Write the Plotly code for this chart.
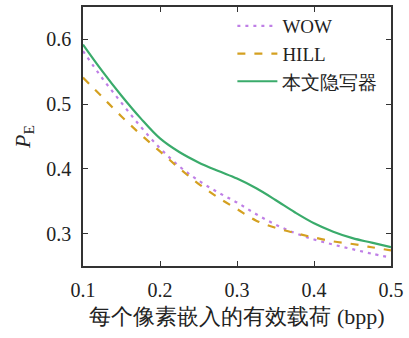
import plotly.graph_objects as go

x_bpp = [0.100, 0.125, 0.150, 0.175, 0.200, 0.225, 0.250, 0.275, 0.300,
         0.325, 0.350, 0.375, 0.400, 0.425, 0.450, 0.475, 0.500]
wow = [0.582, 0.540, 0.502, 0.465, 0.432, 0.404, 0.382, 0.364, 0.348,
       0.330, 0.314, 0.301, 0.291, 0.283, 0.276, 0.269, 0.263]
hill = [0.541, 0.511, 0.481, 0.453, 0.427, 0.401, 0.377, 0.356, 0.338,
        0.320, 0.309, 0.301, 0.294, 0.288, 0.284, 0.279, 0.274]
ours = [0.592, 0.551, 0.513, 0.478, 0.447, 0.426, 0.410, 0.397, 0.385,
        0.370, 0.352, 0.333, 0.316, 0.303, 0.293, 0.286, 0.279]
names = ["WOW", "HILL", "本文隐写器"]
x_ticks = [0.1, 0.2, 0.3, 0.4, 0.5]
y_ticks = [0.3, 0.4, 0.5, 0.6]

FONT = "Liberation Serif, serif"

fig = go.Figure()
fig.add_trace(go.Scatter(x=x_bpp, y=wow, name=names[0], mode="lines",
                         line=dict(color="#bf7fe6", width=2.2, dash="3px,5px", shape="spline", smoothing=1.0)))
fig.add_trace(go.Scatter(x=x_bpp, y=hill, name=names[1], mode="lines",
                         line=dict(color="#d4a020", width=2.2, dash="8px,9px", shape="spline", smoothing=1.0)))
fig.add_trace(go.Scatter(x=x_bpp, y=ours, name=names[2], mode="lines",
                         line=dict(color="#3aab6b", width=2.2, shape="spline", smoothing=1.0)))

axis_common = dict(showline=True, linecolor="#333333", linewidth=1.5, mirror="ticks",
                   ticks="inside", ticklen=5, tickwidth=1.2, tickcolor="#333333",
                   showgrid=False, zeroline=False, ticklabeloverflow="allow",
                   tickfont=dict(family=FONT, size=20, color="#222222"))

fig.update_layout(
    width=409, height=338,
    margin=dict(l=83, r=14, t=5, b=72),
    paper_bgcolor="white", plot_bgcolor="white",
    font=dict(family=FONT, size=20, color="#222222"),
    xaxis=dict(range=[0.1, 0.5], tickvals=x_ticks, ticktext=[f"{v:.1f}" for v in x_ticks],
               ticklabelstandoff=5,
               title=dict(text="每个像素嵌入的有效载荷 (bpp)", font=dict(family=FONT, size=22), standoff=9),
               **axis_common),
    yaxis=dict(range=[0.25, 0.65], tickvals=y_ticks, ticktext=[f"{v:.1f}" for v in y_ticks],
               ticklabelstandoff=6,
               title=dict(text="<i>P</i><sub>E</sub>", font=dict(family=FONT, size=22), standoff=10),
               **axis_common),
    legend=dict(x=0.485, y=1.0, xanchor="left", yanchor="top", bgcolor="rgba(0,0,0,0)",
                font=dict(family=FONT, size=19), tracegroupgap=0, itemwidth=40),
    showlegend=True,
)

fig.write_html("out.html")
